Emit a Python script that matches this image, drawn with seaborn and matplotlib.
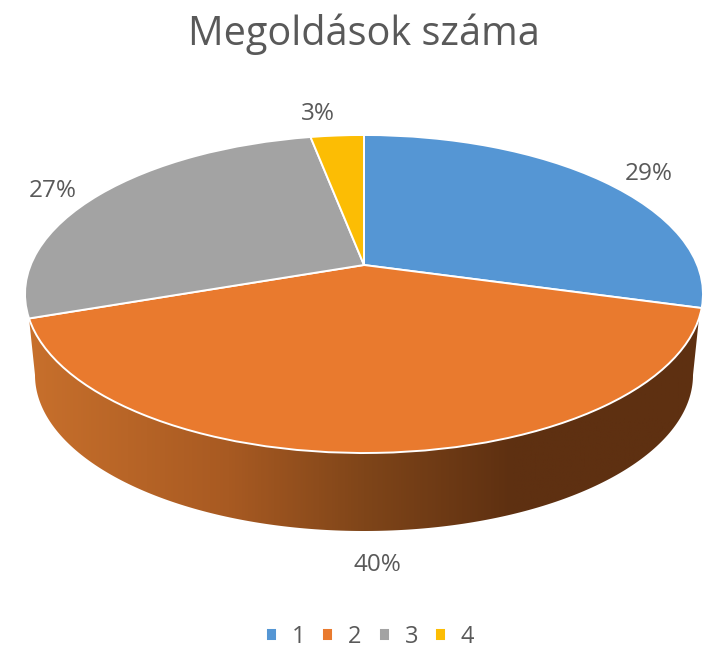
import numpy as np
import matplotlib
matplotlib.use("Agg")
import matplotlib.pyplot as plt
import seaborn as sns
from matplotlib.colors import LinearSegmentedColormap
from matplotlib.patches import Polygon
from matplotlib.transforms import Transform

categories = ["1", "2", "3", "4"]
values = [29, 40, 27, 3]
title = "Megoldások száma"
colors = ["#5596D4", "#E97A2E", "#A3A3A3", "#FCBD04"]
wall_colors = ["#C8702C", "#A85A22", "#7F4519", "#5E3011", "#5E3011"]
wall_stops = [0.0, 0.3, 0.5, 0.72, 1.0]

sns.set_theme(style="white")
plt.rcParams["font.family"] = ["Open Sans", "DejaVu Sans"]
TEXT = "#595959"

# Geometry of the tilted disc, in pixels
CX, CY, RX, RY = 364, 294, 339, 159
APEX = 29 / 159
LOW_CY, LOW_RX, LOW_RY = 375, 329, 156


class Tilt(Transform):
    """Projective map of the unit circle onto the tilted ellipse."""
    input_dims = output_dims = 2

    def transform_non_affine(self, values):
        xy = np.asarray(values, dtype=float)
        x, y = xy[:, 0], xy[:, 1]
        d = 1 + APEX * y
        return np.column_stack([
            CX + RX * x * np.sqrt(1 - APEX ** 2) / d,
            CY - RY * (y + APEX) / d,
        ])


fig = plt.figure(figsize=(7.06, 6.49), dpi=100, facecolor="white")
ax = fig.add_axes([0, 0, 1, 1])

wedges, _ = ax.pie(
    values, colors=colors, startangle=90, counterclock=False,
    wedgeprops={"edgecolor": "white", "linewidth": 1.4, "zorder": 3},
)
tilt = Tilt()
for w in wedges:
    w.set_transform(tilt + ax.transData)

# Side wall of the disc
t = np.linspace(0, np.pi, 200)
bottom = np.column_stack([CX - LOW_RX * np.cos(t), LOW_CY + LOW_RY * np.sin(t)])
edge = np.vstack([[[CX - RX + 4, 318]], bottom, [[CX + RX - 4, 318]], [[CX, 318]]])
wall = LinearSegmentedColormap.from_list("wall", list(zip(wall_stops, wall_colors)))
im = ax.imshow(np.linspace(0, 1, 512)[None, :], extent=(CX - RX, CX + RX, 540, 300),
               cmap=wall, aspect="auto", zorder=1)
clip = Polygon(edge, closed=True, transform=ax.transData)
im.set_clip_path(clip)

ax.set_aspect("auto")
ax.set_xlim(0, 706)
ax.set_ylim(649, 0)
ax.axis("off")

ax.text(364, 34, title, ha="center", va="center", fontsize=28.5, color=TEXT)
for v, (px, py) in zip(values, [(649, 174), (377, 565), (53, 191), (318, 114)]):
    ax.text(px, py, f"{v}%", ha="center", va="center", fontsize=17.5, color=TEXT)

fig.legend(
    wedges, categories, ncol=4, loc="center", bbox_to_anchor=(370 / 706, 1 - 637 / 649),
    frameon=False, fontsize=17, labelcolor=TEXT, handlelength=0.48, handleheight=0.48,
    handletextpad=0.62, columnspacing=0.72,
)

fig.savefig("out.png", dpi=100, facecolor="white")
